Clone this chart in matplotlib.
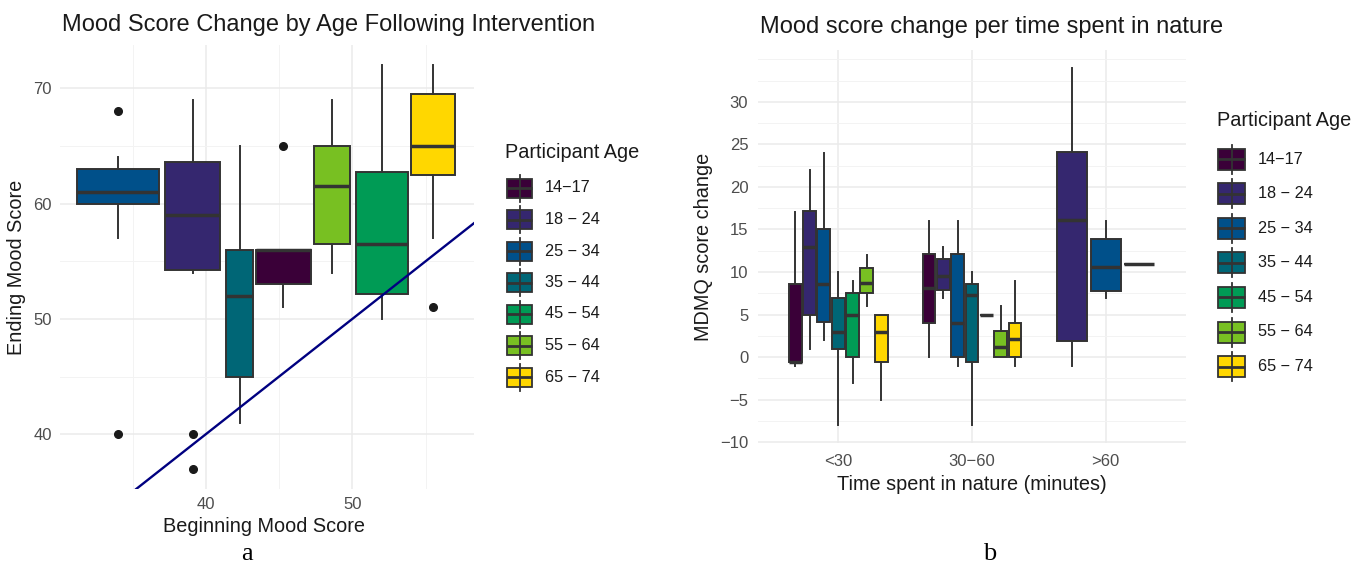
import matplotlib
matplotlib.use("Agg")
import matplotlib.pyplot as plt
from matplotlib.patches import Rectangle
from matplotlib.lines import Line2D

plt.rcParams['font.family'] = ['Liberation Sans', 'DejaVu Sans']

# ---------------- data ----------------
age_groups = ['14\u221217', '18 \u2212 24', '25 \u2212 34', '35 \u2212 44',
              '45 \u2212 54', '55 \u2212 64', '65 \u2212 74']
age_colors = ['#3A0038', '#35276F', '#00508A', '#006676',
              '#009B55', '#78C022', '#FFD700']

# Panel a: boxplots of ending mood score positioned at beginning mood score
begin_score = [45.3, 39.1, 34.0, 42.3, 52.0, 48.6, 55.5]
group_width = [3.7, 3.77, 5.55, 1.85, 3.56, 2.47, 2.95]
end_q1 = [53.0, 54.2, 60.0, 45.0, 52.2, 56.5, 62.5]
end_med = [56.0, 59.0, 61.0, 52.0, 56.5, 61.5, 65.0]
end_q3 = [56.0, 63.6, 63.0, 56.0, 62.7, 65.0, 69.5]
end_lo = [51.0, 54.0, 57.0, 41.0, 50.0, 54.0, 57.0]
end_hi = [56.0, 69.0, 64.0, 65.0, 72.0, 69.0, 72.0]
end_out = [[65.0], [40.0, 37.0], [68.0, 40.0], [], [], [], [51.0]]

# Panel b: MDMQ score change by time spent in nature
time_cats = ['<30', '30\u221260', '>60']

lt30_groups = [0, 1, 2, 3, 4, 5, 6]
lt30_q1 = [-0.6, 5.0, 4.1, 0.9, 0.0, 7.5, -0.6]
lt30_med = [-0.6, 13.0, 8.6, 3.0, 5.0, 8.7, 2.9]
lt30_q3 = [8.6, 17.2, 15.0, 7.0, 7.5, 10.5, 5.0]
lt30_lo = [-1.0, 1.0, 2.0, -8.0, -3.0, 6.0, -5.0]
lt30_hi = [17.0, 22.0, 24.0, 10.0, 9.0, 12.0, 5.0]

mid_groups = [0, 1, 2, 3, 4, 5, 6]
mid_q1 = [4.0, 7.9, 0.0, -0.6, 5.0, 0.0, 0.0]
mid_med = [8.1, 9.5, 4.0, 7.3, 5.0, 1.2, 2.1]
mid_q3 = [12.1, 11.5, 12.1, 8.6, 5.0, 3.1, 4.0]
mid_lo = [0.0, 7.0, -1.0, -8.0, 5.0, 0.0, -1.0]
mid_hi = [16.0, 13.0, 16.0, 10.0, 5.0, 6.0, 9.0]

gt60_groups = [1, 2, 3]
gt60_q1 = [1.9, 7.8, 11.0]
gt60_med = [16.1, 10.6, 11.0]
gt60_q3 = [24.1, 13.9, 11.0]
gt60_lo = [-1.0, 7.0, 11.0]
gt60_hi = [34.0, 16.0, 11.0]

# ---------------- styling ----------------
W, H = 1369, 564
EDGE = '#333333'
GRID_MAJ = '#EBEBEB'
GRID_MIN = '#F3F3F3'
TICK_COL = '#4D4D4D'
TXT = '#1A1A1A'
TICK_FS = 12
LAB_FS = 14.3
TITLE_FS = 17

fig = plt.figure(figsize=(W / 100, H / 100), dpi=100)


def px_axes(x0, y0, x1, y1):
    return fig.add_axes([x0 / W, 1 - y1 / H, (x1 - x0) / W, (y1 - y0) / H])


def style_axes(ax):
    for s in ax.spines.values():
        s.set_visible(False)
    ax.tick_params(which='both', length=0, labelsize=TICK_FS, labelcolor=TICK_COL)
    ax.set_axisbelow(True)


def draw_boxes(ax, positions, widths, q1, med, q3, lo, hi, fliers, colors):
    stats = []
    for i in range(len(positions)):
        stats.append(dict(q1=q1[i], med=med[i], q3=q3[i], whislo=lo[i],
                          whishi=hi[i], fliers=fliers[i]))
    bp = ax.bxp(stats, positions=positions, widths=widths, patch_artist=True,
                showcaps=False, manage_ticks=False,
                boxprops=dict(edgecolor=EDGE, linewidth=1.4),
                whiskerprops=dict(color=EDGE, linewidth=1.4),
                medianprops=dict(color=EDGE, linewidth=2.5, solid_capstyle='butt'),
                flierprops=dict(marker='o', markerfacecolor='#1A1A1A',
                                markeredgecolor='#1A1A1A', markersize=5.5))
    for patch, c in zip(bp['boxes'], colors):
        patch.set_facecolor(c)
    return bp


# ---------------- panel a ----------------
axa = px_axes(60, 45, 474, 489)
style_axes(axa)
axa.set_xlim(30.05, 58.3)
axa.set_ylim(35.25, 73.75)
axa.set_xticks([40, 50])
axa.set_xticks([35, 45, 55], minor=True)
axa.set_yticks([40, 50, 60, 70])
axa.set_yticks([45, 55, 65], minor=True)
axa.grid(which='major', color=GRID_MAJ, linewidth=1.1)
axa.grid(which='minor', color=GRID_MIN, linewidth=0.7)
axa.tick_params(axis='y', pad=6)
axa.tick_params(axis='x', pad=6)

draw_boxes(axa, begin_score, group_width, end_q1, end_med, end_q3,
           end_lo, end_hi, end_out, age_colors)
axa.axline((40, 40), slope=1, color='#000080', linewidth=1.7, zorder=5)

axa.set_xlabel('Beginning Mood Score', fontsize=LAB_FS, color=TXT)
axa.set_ylabel('Ending Mood Score', fontsize=LAB_FS, color=TXT)
axa.xaxis.set_label_coords(0.493, -0.063)
axa.yaxis.set_label_coords(-0.082, 0.5)

# ---------------- panel b ----------------
axb = px_axes(758, 50, 1186, 443)
style_axes(axb)
axb.set_xlim(0.4, 3.6)
axb.set_ylim(-10.1, 36.1)
axb.set_xticks([1, 2, 3])
axb.set_xticklabels(time_cats)
axb.set_yticks(list(range(-10, 31, 5)))
axb.set_yticks([-7.5, -2.5, 2.5, 7.5, 12.5, 17.5, 22.5, 27.5, 32.5, 35], minor=True)
axb.grid(which='major', color=GRID_MAJ, linewidth=1.1)
axb.grid(which='minor', axis='y', color=GRID_MIN, linewidth=0.7)
axb.tick_params(axis='y', pad=7)
axb.tick_params(axis='x', pad=8)

dodge = 0.75
for ci, (grp, q1, md, q3, lo, hi) in enumerate([
        (lt30_groups, lt30_q1, lt30_med, lt30_q3, lt30_lo, lt30_hi),
        (mid_groups, mid_q1, mid_med, mid_q3, mid_lo, mid_hi),
        (gt60_groups, gt60_q1, gt60_med, gt60_q3, gt60_lo, gt60_hi)]):
    n = len(grp)
    slot = dodge / n
    pos = [ci + 1 + (i - (n - 1) / 2) * slot for i in range(n)]
    draw_boxes(axb, pos, [slot * 0.9] * n, q1, md, q3, lo, hi,
               [[] for _ in range(n)], [age_colors[g] for g in grp])

axb.set_xlabel('Time spent in nature (minutes)', fontsize=LAB_FS, color=TXT)
axb.set_ylabel('MDMQ score change', fontsize=LAB_FS, color=TXT)
axb.xaxis.set_label_coords(0.5, -0.081)
axb.yaxis.set_label_coords(-0.105, 0.5)

# ---------------- overlay: titles, legends, panel letters ----------------
ov = fig.add_axes([0, 0, 1, 1])
ov.set_xlim(0, W)
ov.set_ylim(H, 0)
ov.axis('off')
ov.patch.set_alpha(0)

ov.text(62, 31, 'Mood Score Change by Age Following Intervention',
        fontsize=TITLE_FS, color=TXT, va='baseline', ha='left')
ov.text(760, 33, 'Mood score change per time spent in nature',
        fontsize=TITLE_FS, color=TXT, va='baseline', ha='left')


def draw_legend(tx, ty, kx, ky0, step, kw, kh, lx):
    ov.text(tx, ty, 'Participant Age', fontsize=LAB_FS, color=TXT,
            va='center', ha='left')
    for i, (lab, col) in enumerate(zip(age_groups, age_colors)):
        yc = ky0 + i * step
        xc = kx + kw / 2
        ov.add_line(Line2D([xc, xc], [yc - kh / 2 - 4, yc + kh / 2 + 4],
                           color=EDGE, linewidth=1.3))
        ov.add_patch(Rectangle((kx, yc - kh / 2), kw, kh, facecolor=col,
                               edgecolor=EDGE, linewidth=1.3))
        ov.add_line(Line2D([kx, kx + kw], [yc, yc], color=EDGE, linewidth=2.0,
                           solid_capstyle='butt'))
        ov.text(lx, yc, lab, fontsize=11.7, color=TXT, va='center', ha='left')


draw_legend(505, 153, 507, 188, 31.5, 25, 19, 545)
draw_legend(1217, 120, 1218, 159, 34.6, 27, 21, 1258)

ov.text(247, 560, 'a', fontsize=19, family='Liberation Serif', color='black',
        ha='center', va='baseline')
ov.text(990, 560, 'b', fontsize=19, family='Liberation Serif', color='black',
        ha='center', va='baseline')

fig.savefig('out.png', dpi=100)
